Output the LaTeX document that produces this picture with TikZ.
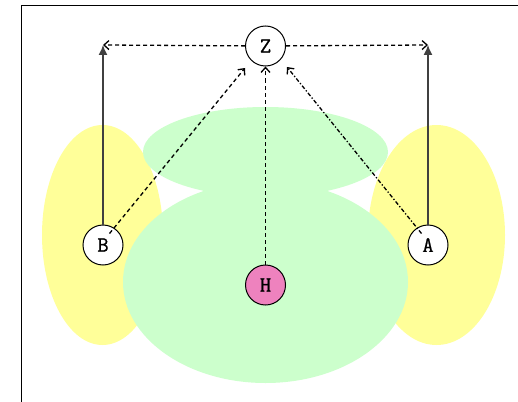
\documentclass[tikz,border=0pt]{standalone}
\usepackage{fontspec}
\newfontfamily\nodefont{Latin Modern Mono}[FakeBold=0.8]
\usetikzlibrary{arrows.meta}
\definecolor{ylw}{RGB}{255,255,153}
\definecolor{grn}{RGB}{204,255,204}
\definecolor{pnk}{RGB}{238,130,190}
\tikzset{
  vertex/.style={circle, draw=black, line width=1pt, fill=white, minimum size=40pt, inner sep=0pt, font=\nodefont\fontsize{22}{22}\selectfont},
  solidarrow/.style={draw=black!75, line width=1.3pt, -{Latex[length=10pt,width=9pt]}},
  dasharrow/.style={draw=black, line width=1.3pt, dash pattern=on 4pt off 3pt, -{Straight Barb[length=5pt,width=9pt]}},
  dotarrow/.style={draw=black, line width=1.3pt, dash pattern=on 4pt off 2pt on 1.3pt off 2pt, -{Straight Barb[length=5pt,width=9pt]}}
}
\begin{document}
\begin{tikzpicture}[x=1pt,y=-1pt]
\useasboundingbox (0,0) rectangle (518,401);
\fill[white] (0,0) rectangle (518,401);
% blobs
\fill[ylw] (102.5,235) ellipse [x radius=60.5, y radius=110];
\fill[ylw] (436.5,235) ellipse [x radius=68.5, y radius=110];
\fill[grn] (265.5,152) ellipse [x radius=122.5, y radius=45];
\fill[grn] (265.5,282) ellipse [x radius=142.5, y radius=101];
% frame
\draw[line width=1.6pt] (21.5,410) -- (21.5,5.5) -- (525,5.5);
% nodes
\node[vertex] (Z) at (265.5,46) {Z};
\node[vertex] (B) at (103,245) {B};
\node[vertex] (A) at (428,245) {A};
\node[vertex, fill=pnk] (H) at (265.5,285) {H};
\coordinate (tl) at (103,45);
\coordinate (tr) at (428,45);
\coordinate (zb) at (245,68);
\coordinate (za) at (287,67);
% connectors
\draw[solidarrow] (B) -- (tl);
\draw[solidarrow] (A) -- (tr);
\draw[dasharrow] (Z) -- (tl);
\draw[dasharrow] (Z) -- (tr);
\draw[dasharrow] (B.north east) ++(-8,3) -- (zb);
\draw[dasharrow] (H) -- (Z);
\draw[dotarrow] (A.north west) ++(8,3) -- (za);
\end{tikzpicture}
\end{document}
